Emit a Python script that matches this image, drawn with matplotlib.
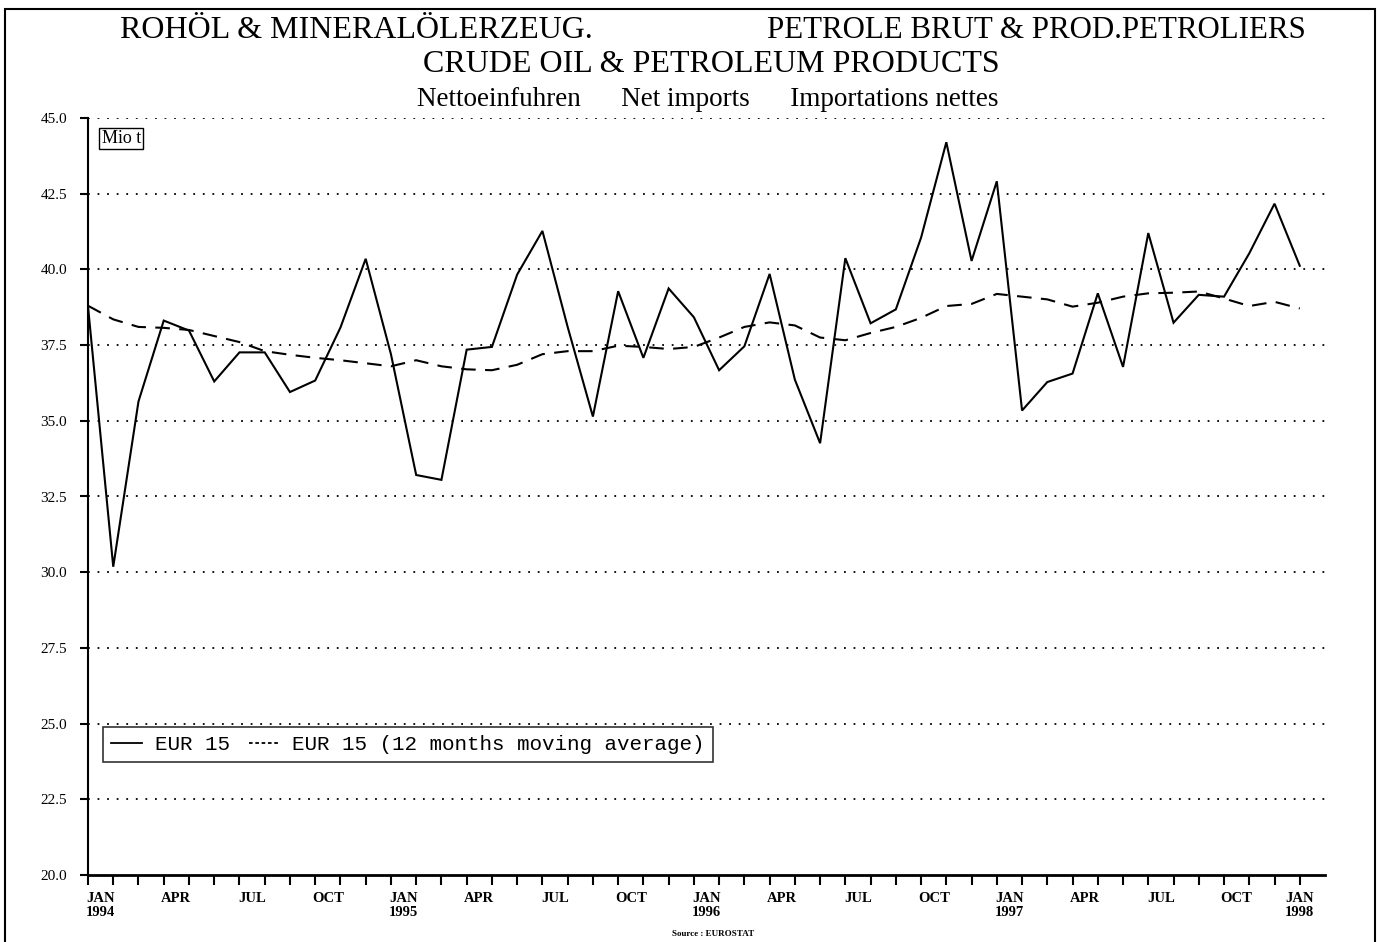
import numpy as np
import matplotlib
matplotlib.use("Agg")
import matplotlib.pyplot as plt
from matplotlib.patches import Rectangle
from matplotlib.lines import Line2D

# monthly net imports, Mio t, JAN 1994 .. JAN 1998
net_imports = [38.78, 30.18, 35.64, 38.31, 37.98, 36.30, 37.26, 37.26, 35.95, 36.33, 38.08, 40.35,
               37.20, 33.21, 33.05, 37.35, 37.44, 39.83, 41.27, 38.10, 35.14, 39.28, 37.08, 39.37,
               38.42, 36.67, 37.46, 39.85, 36.36, 34.26, 40.37, 38.22, 38.68, 41.05, 44.20, 40.28,
               42.91, 35.34, 36.28, 36.56, 39.21, 36.78, 41.20, 38.24, 39.16, 39.10, 40.53, 42.17,
               40.12]
moving_avg = [38.80, 38.35, 38.10, 38.07, 38.00, 37.80, 37.60, 37.30, 37.18, 37.08, 37.00, 36.90,
              36.80, 37.00, 36.80, 36.70, 36.67, 36.85, 37.20, 37.30, 37.30, 37.48, 37.44, 37.37,
              37.44, 37.75, 38.10, 38.25, 38.15, 37.75, 37.66, 37.90, 38.10, 38.40, 38.79, 38.86,
              39.19, 39.10, 39.01, 38.77, 38.90, 39.10, 39.21, 39.23, 39.27, 39.04, 38.79, 38.93,
              38.71]
months = ["JAN", "APR", "JUL", "OCT"]
years = [1994, 1995, 1996, 1997, 1998]
y_ticks = [20.0, 22.5, 25.0, 27.5, 30.0, 32.5, 35.0, 37.5, 40.0, 42.5, 45.0]

W, H = 1381, 942
serif = ["Liberation Serif", "DejaVu Serif"]
fig = plt.figure(figsize=(W / 100, H / 100), dpi=100)
ax = fig.add_axes([88 / W, (H - 875) / H, 1237 / W, 757 / H])

x = np.arange(len(net_imports))
ax.plot(x, net_imports, color="black", lw=1.5, solid_joinstyle="miter")
ax.plot(x, moving_avg, color="black", lw=1.5, ls=(0, (7, 4.5)))

ax.set_xlim(0, 49)
ax.set_ylim(20, 45)
for v in y_ticks[1:]:
    ax.axhline(v, color="black", lw=1.3, ls=(0, (1, 4.3)), zorder=0)

ax.set_yticks(y_ticks)
ax.set_yticklabels([f"{v:.1f}" for v in y_ticks], family=serif, fontsize=11)

# tick marks every month, labels on minor ticks set half a month to the right
ax.xaxis.remove_overlapping_locs = False
ax.set_xticks(x)
ax.set_xticklabels([])
lab_pos, lab_txt = [], []
for i in x[::3]:
    m = months[(i // 3) % 4]
    lab_pos.append(i + 0.5 if i < x[-1] else i)
    lab_txt.append(f"{m}\n{years[i // 12]}" if m == "JAN" else m)
ax.set_xticks(lab_pos, minor=True)
ax.set_xticklabels(lab_txt, minor=True, family=serif, fontsize=10.5, fontweight="bold",
                   linespacing=1.1)
ax.tick_params(axis="x", which="major", direction="out", length=7, width=1.5)
ax.tick_params(axis="x", which="minor", length=0, pad=12)
ax.tick_params(axis="y", direction="out", length=6, width=1.5, pad=9)
for s in ["top", "right"]:
    ax.spines[s].set_visible(False)
ax.spines["left"].set_linewidth(1.5)
ax.spines["bottom"].set_linewidth(2)

ax.text(0.011, 0.984, "Mio t", transform=ax.transAxes, ha="left", va="top",
        family=serif, fontsize=13,
        bbox=dict(boxstyle="square,pad=0.12", fc="white", ec="black", lw=1))

handles = [Line2D([], [], color="black", lw=1.3),
           Line2D([], [], color="black", lw=1.3, ls=(0, (2, 1.5)))]
leg = ax.legend(handles, ["EUR 15", "EUR 15 (12 months moving average)"],
                loc="lower left", bbox_to_anchor=(0.012, 0.149), ncol=2,
                prop={"family": "Liberation Mono", "size": 15},
                frameon=True, fancybox=False, borderaxespad=0,
                handlelength=1.5, handletextpad=0.6, columnspacing=0.9, borderpad=0.4)
leg.get_frame().set_edgecolor("black")
leg.get_frame().set_linewidth(1.2)

fig.text(120 / W, 1 - 31 / H, "ROHÖL & MINERALÖLERZEUG.", ha="left", va="center",
         family=serif, fontsize=23)
fig.text(1306 / W, 1 - 31 / H, "PETROLE BRUT & PROD.PETROLIERS", ha="right", va="center",
         family=serif, fontsize=22.2)
fig.text(711 / W, 1 - 64 / H, "CRUDE OIL & PETROLEUM PRODUCTS", ha="center", va="center",
         family=serif, fontsize=23)
fig.text(708 / W, 1 - 100 / H, "Nettoeinfuhren      Net imports      Importations nettes",
         ha="center", va="center", family=serif, fontsize=19.5)
fig.text(713 / W, 1 - 934 / H, "Source : EUROSTAT", ha="center", va="center",
         family=serif, fontsize=6.5, fontweight="bold")

fig.patches.append(Rectangle((5 / W, -0.01), 1370 / W, 1.01 - 9 / H, transform=fig.transFigure,
                             fill=False, ec="black", lw=1.5))

fig.savefig("out.png", dpi=100)
